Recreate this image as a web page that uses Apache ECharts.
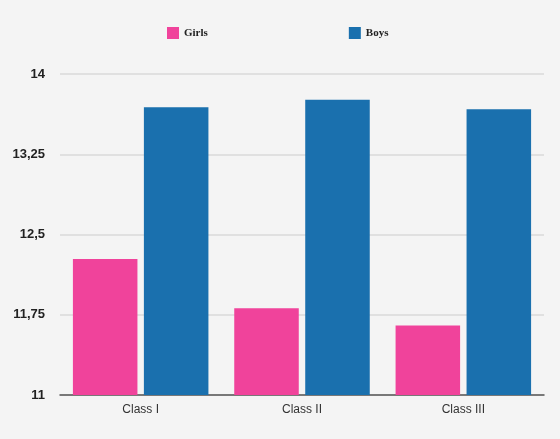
<!DOCTYPE html>
<html>
<head>
<meta charset="utf-8">
<script src="https://cdn.jsdelivr.net/npm/echarts@6/dist/echarts.min.js"></script>
<style>
  html, body { margin: 0; padding: 0; background: #f4f4f4; }
  #chart { width: 560px; height: 439px; }
</style>
</head>
<body>
<div id="chart"></div>
<script>
const classes = ['Class I', 'Class II', 'Class III'];
const girls = [12.27, 11.81, 11.65];
const boys = [13.69, 13.76, 13.67];
const yTicks = [11, 11.75, 12.5, 13.25, 14];

const chart = echarts.init(document.getElementById('chart'));

chart.setOption({
  backgroundColor: '#f4f4f4',
  animation: false,
  legend: {
    left: 162,
    top: 22,
    itemWidth: 12,
    itemHeight: 12,
    itemGap: 141,
    icon: 'rect',
    textStyle: { fontFamily: 'Liberation Serif', fontWeight: 'bold', fontSize: 11, color: '#222' },
    data: ['Girls', 'Boys']
  },
  grid: { left: 60, right: 16, top: 74, bottom: 44 },
  xAxis: {
    type: 'category',
    data: classes,
    axisLine: { lineStyle: { color: '#555', width: 1.5 } },
    axisTick: { show: false },
    axisLabel: { color: '#333', fontFamily: 'Liberation Sans', fontSize: 12, margin: 9 }
  },
  yAxis: {
    type: 'value',
    min: 11,
    max: 14,
    axisLine: { show: false },
    axisTick: { show: false, customValues: yTicks },
    splitLine: { lineStyle: { color: '#dadada', width: 1.5 } },
    axisLabel: {
      customValues: yTicks,
      color: '#222',
      fontFamily: 'Liberation Sans',
      fontWeight: 'bold',
      fontSize: 13,
      margin: 15,
      formatter: v => String(v).replace('.', ',')
    }
  },
  series: [
    {
      name: 'Girls',
      type: 'bar',
      data: girls,
      itemStyle: { color: '#f0439b' },
      barGap: '10%',
      barCategoryGap: '16%'
    },
    {
      name: 'Boys',
      type: 'bar',
      data: boys,
      itemStyle: { color: '#1a70ae' }
    }
  ]
});
</script>
</body>
</html>
